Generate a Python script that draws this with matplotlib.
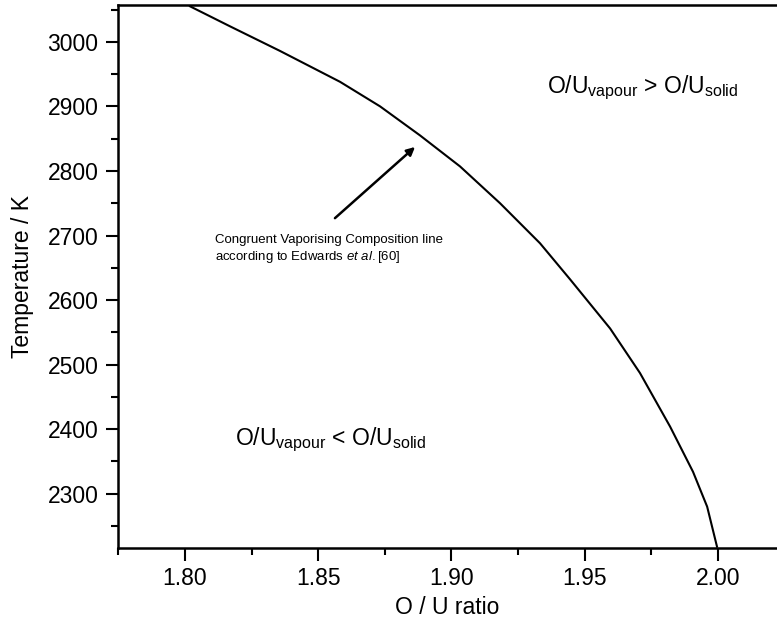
import numpy as np
import matplotlib
matplotlib.use("Agg")
import matplotlib.pyplot as plt
from matplotlib.ticker import MultipleLocator

plt.rcParams['font.family'] = ['Liberation Sans', 'DejaVu Sans']
plt.rcParams['mathtext.fontset'] = 'custom'
plt.rcParams['mathtext.rm'] = 'Liberation Sans'
plt.rcParams['mathtext.it'] = 'Liberation Sans:italic'

# congruent vaporising composition
ou_ratio = [1.8019, 1.8169, 1.8356, 1.8582, 1.8732, 1.8882, 1.9032, 1.9182,
            1.9332, 1.9445, 1.9595, 1.9707, 1.9820, 1.9906, 1.9959, 1.9996]
temp_K = [3055, 3024, 2986, 2938, 2900, 2855, 2807, 2750,
          2688, 2632, 2556, 2487, 2404, 2334, 2280, 2218]

fig = plt.figure(figsize=(7.77, 6.25), dpi=100)
ax = fig.add_axes([118/777, 77/625, 1 - 118/777, 543/625])

ax.plot(ou_ratio, temp_K, color='black', lw=1.5, solid_joinstyle='round')

ax.set_xlim(1.7749, 2.0221)
ax.set_ylim(2216, 3057)
ax.xaxis.set_major_locator(MultipleLocator(0.05))
ax.xaxis.set_minor_locator(MultipleLocator(0.025))
ax.yaxis.set_major_locator(MultipleLocator(100))
ax.yaxis.set_minor_locator(MultipleLocator(50))
ax.xaxis.set_major_formatter(plt.FormatStrFormatter('%.2f'))

ax.spines['right'].set_visible(False)
for s in ['left', 'bottom', 'top']:
    ax.spines[s].set_linewidth(1.8)
ax.tick_params(which='major', direction='out', length=9, width=1.5, labelsize=16.5, pad=5)
ax.tick_params(which='minor', direction='out', length=5, width=1.5)
ax.tick_params(top=False, right=False)

ax.set_xlabel('O / U ratio', fontsize=16.5, labelpad=4)
ax.set_ylabel('Temperature / K', fontsize=16.5, labelpad=10)

ax.text(1.936, 2929, r'O/U$_{\mathrm{vapour}}$ > O/U$_{\mathrm{solid}}$',
        fontsize=16.5, ha='left', va='center')
ax.text(1.8188, 2384, r'O/U$_{\mathrm{vapour}}$ < O/U$_{\mathrm{solid}}$',
        fontsize=16.5, ha='left', va='center')

ax.annotate('', xy=(1.8871, 2840), xytext=(1.8555, 2724),
            arrowprops=dict(arrowstyle='-|>', color='black', lw=1.8,
                            mutation_scale=12))
ax.text(1.8113, 2703, 'Congruent Vaporising Composition line\naccording to Edwards $\\mathit{et\\ al.}$[60]',
        fontsize=9.5, ha='left', va='top', linespacing=1.3)

fig.savefig('out.png', dpi=100)
